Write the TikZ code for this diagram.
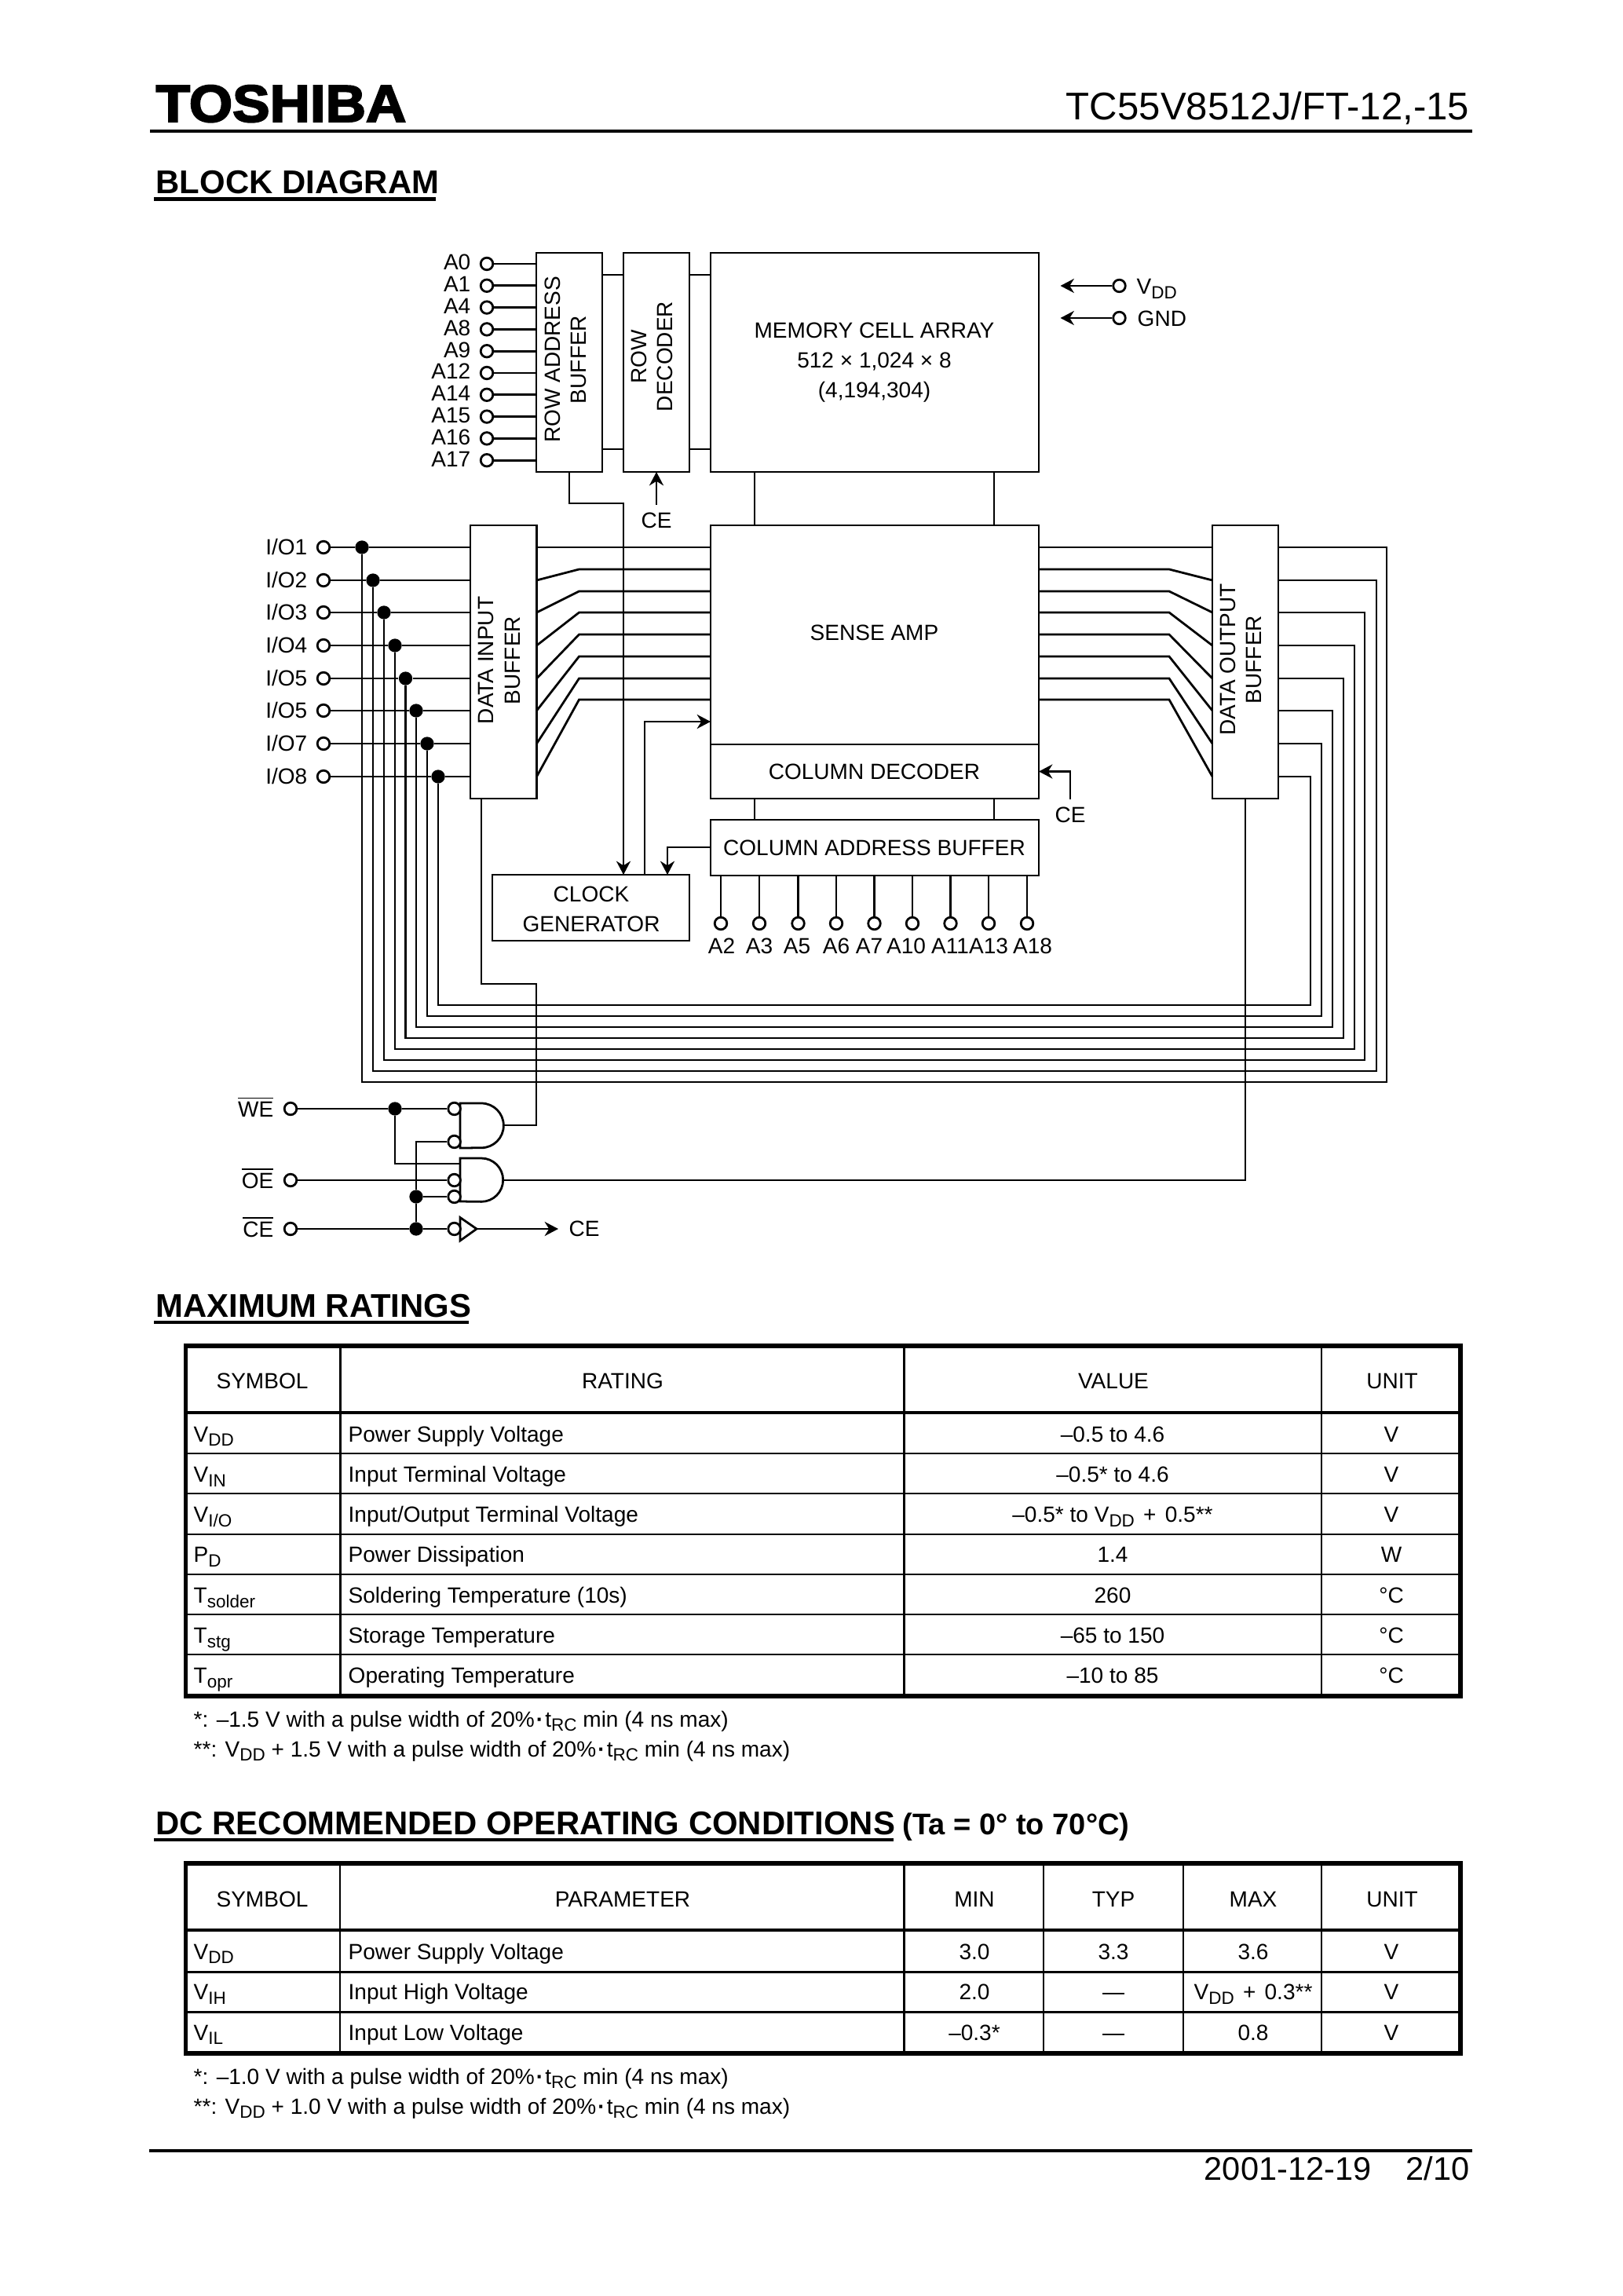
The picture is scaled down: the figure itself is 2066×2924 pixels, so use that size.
\documentclass[tikz,border=0pt]{standalone}
\usepackage{fontspec}
\usepackage{amsmath}
\setmainfont{Liberation Sans}
\newfontfamily\logofont[FakeBold=3.2,FakeStretch=1.07]{Liberation Sans Bold}
\usetikzlibrary{arrows.meta,fit,calc}

\newcommand{\lowsub}[1]{\raisebox{-1.7pt}{\fontsize{6.5}{6.5}\selectfont #1}}
\newcommand{\barname}[1]{$\overline{\mbox{#1}}$}
\newcommand{\pulsedot}{{\bfseries\hspace{0.6pt}·\hspace{0.6pt}}}
\newcommand{\plusgap}{\hspace{1pt}+\hspace{1pt}}

\begin{document}
\begin{tikzpicture}[
    x=0.289pt, y=-0.289pt,
    font=\fontsize{8.1}{11}\selectfont,
    wire/.style={line width=0.8pt},
    arrow/.style={line width=0.8pt, -{Stealth[length=5pt,width=5.2pt,inset=1.6pt]}},
    blockbox/.style={draw, line width=0.85pt, inner sep=0pt, outer sep=0pt},
    pinhole/.style={circle, draw, fill=white, line width=0.8pt, inner sep=0pt, minimum size=4.5pt},
    joint/.style={circle, fill=black, inner sep=0pt, minimum size=5pt},
    pinlabel/.style={inner sep=0pt, text height=5.7pt, text depth=0pt},
    blocktext/.style={inner sep=0pt, align=center},
    sidetext/.style={inner sep=0pt, align=center, rotate=90, font=\fontsize{8.1}{9.6}\selectfont},
    heading/.style={inner sep=0pt, anchor=base west, font=\fontsize{12.1}{14}\selectfont\bfseries},
    headrule/.style={line width=1.4pt},
    pagerule/.style={line width=1.15pt},
    tableframe/.style={line width=1.7pt},
    tablehead/.style={line width=1.3pt},
    tableline/.style={line width=0.85pt},
    cellleft/.style={inner sep=0pt, anchor=base west},
    cellmid/.style={inner sep=0pt, anchor=base}
]

\path[use as bounding box, fill=white] (0,0) rectangle (2066,2924);

% Page header
\node[inner sep=0pt, anchor=base west, font=\fontsize{19.2}{20}\logofont] (logo) at (198,155) {TOSHIBA};
\node[inner sep=0pt, anchor=base east, font=\fontsize{14.2}{16}\selectfont] (partno) at (1872,153) {TC55V8512J/FT-12,-15};
\draw[pagerule] (191,167) -- (1875,167);
\node[heading] (headblock) at (198,247) {BLOCK DIAGRAM};
\draw[headrule] (196,253.5) -- (555,253.5);

% Blocks
\node[blockbox, fit={(683,322) (767,601)}] (rowbuf) {};
\node[blockbox, fit={(794,322) (878,601)}] (rowdec) {};
\node[blockbox, fit={(905,322) (1323,601)}] (memarray) {};
\node[blockbox, fit={(599,669) (683.5,1017)}] (inbuf) {};
\node[blockbox, fit={(905,669) (1323,948)}] (senseamp) {};
\node[blockbox, fit={(905,948) (1323,1017)}] (coldec) {};
\node[blockbox, fit={(1544,669) (1628,1017)}] (outbuf) {};
\node[blockbox, fit={(905,1044) (1323,1115)}] (colbuf) {};
\node[blockbox, fit={(627,1114) (878,1198)}] (clockgen) {};

% Block texts
\node[sidetext] (rowbuftext) at (720,458) {ROW ADDRESS\\BUFFER};
\node[sidetext] (rowdectext) at (830,454) {ROW\\DECODER};
\node[sidetext] (inbuftext) at (636,841) {DATA INPUT\\BUFFER};
\node[sidetext] (outbuftext) at (1580,840) {DATA OUTPUT\\BUFFER};
\node[blocktext] (memtext) at (1113.5,462) {MEMORY CELL ARRAY\\512 × 1,024 × 8\\(4,194,304)};
\node[pinlabel] (sensetext) at (1113.5,806) {SENSE AMP};
\node[pinlabel] (coldectext) at (1113.5,983) {COLUMN DECODER};
\node[pinlabel] (colbuftext) at (1113.5,1080) {COLUMN ADDRESS BUFFER};
\node[blocktext] (clocktext) at (753,1158) {CLOCK\\GENERATOR};

% Row address pins
\foreach \lab [count=\i] in {A0,A1,A4,A8,A9,A12,A14,A15,A16,A17} {
    \node[pinhole] (rowpin\i) at (620,{336+27.8*(\i-1)}) {};
    \node[pinlabel, anchor=east] (rowlab\i) at (600,{334+27.8*(\i-1)}) {\lab};
    \draw[wire] (rowpin\i) -- (rowpin\i -| rowbuf.west);
}

% Links between the top blocks
\coordinate (rowlink1) at (0,350);
\coordinate (rowlink2) at (0,572);
\foreach \i in {1,2} {
    \draw[wire] (rowlink\i -| rowbuf.east) -- (rowlink\i -| rowdec.west);
    \draw[wire] (rowlink\i -| rowdec.east) -- (rowlink\i -| memarray.west);
}
\coordinate (collink1) at (961,0);
\coordinate (collink2) at (1266,0);
\foreach \i in {1,2} {
    \draw[wire] (collink\i |- memarray.south) -- (collink\i |- senseamp.north);
    \draw[wire] (collink\i |- coldec.south) -- (collink\i |- colbuf.north);
}

% Supply pins
\node[pinhole] (vddpin) at (1425.5,364) {};
\node[pinhole] (gndpin) at (1425.5,405) {};
\coordinate (vddtip) at (1350.5,364);
\coordinate (gndtip) at (1350.5,405);
\draw[arrow] (vddpin) -- (vddtip);
\draw[arrow] (gndpin) -- (gndtip);
\node[inner sep=0pt, anchor=base west] (vddlab) at (1447,375) {V\lowsub{DD}};
\node[inner sep=0pt, anchor=base west] (gndlab) at (1448,416) {GND};

% CE into the decoders
\node[pinlabel] (cerow) at (836,663) {CE};
\coordinate (cerowtail) at (836,643);
\draw[arrow] (cerowtail) -- (rowdec.south);
\node[pinlabel] (cecol) at (1363,1038) {CE};
\coordinate (cecoltail) at (1363,1018);
\draw[arrow] (cecoltail) |- (coldec.east);

% I/O pins, data buses and the lines through the sense amp
\foreach \n/\dx/\py/\sy/\by/\rx [count=\i] in {
    1/461/697/697/1378/1766, 2/475/739/725/1364/1753,
    3/489/780/753/1350/1738, 4/503/822/780/1336/1725,
    5/516.5/864/808/1322/1711, 5/530/905/836/1308/1697,
    7/544/947/864/1294/1683, 8/558/989/891/1280/1669} {
    \node[pinhole] (iopin\i) at (412,\py) {};
    \node[pinlabel, anchor=east] (iolab\i) at (392,\py) {I/O\n};
    \node[joint] (iodot\i) at (\dx,\py) {};
    \coordinate (busleft\i) at (\dx,\by);
    \coordinate (busright\i) at (\rx,\by);
    \coordinate (kneein\i) at (737.5,\sy);
    \coordinate (kneeout\i) at (1489,\sy);
    \draw[wire] (iopin\i) -- (iodot\i) -- (iodot\i -| inbuf.west);
    \draw[wire] (iodot\i) -- (busleft\i) -- (busright\i) -- (busright\i |- iodot\i) -- (iodot\i -| outbuf.east);
    \draw[wire] (iodot\i -| inbuf.east) -- (kneein\i) -- (kneein\i -| senseamp.west);
    \draw[wire] (kneeout\i -| senseamp.east) -- (kneeout\i) -- (iodot\i -| outbuf.west);
}

% Column address pins
\foreach \lab/\px/\lx [count=\i] in {
    A2/918/919, A3/967/967, A5/1016.5/1015, A6/1065/1065, A7/1113.5/1107,
    A10/1162/1154, A11/1210.5/1210, A13/1259/1259, A18/1308/1315} {
    \node[pinhole] (colpin\i) at (\px,1176) {};
    \node[pinlabel] (collab\i) at (\lx,1205) {\lab};
    \draw[wire] (colpin\i) -- (colpin\i |- colbuf.south);
}

% Clock generator
\coordinate (rowjog) at (794,641);
\coordinate (clockin) at (794,1114);
\coordinate (clockout) at (821,1114);
\coordinate (senseclk) at (905,919);
\coordinate (colclk) at (850,1114);
\coordinate (colclkout) at (905,1079);
\draw[arrow] (rowbuf.south) |- (rowjog) -- (clockin);
\draw[arrow] (clockout) |- (senseclk);
\draw[arrow] (colclkout) -| (colclk);

% Control pins
\node[pinhole] (wepin) at (370,1412) {};
\node[pinhole] (oepin) at (370,1503) {};
\node[pinhole] (cepin) at (370,1565) {};
\node[inner sep=0pt, anchor=base east] (welab) at (349,1422) {\barname{WE}};
\node[inner sep=0pt, anchor=base east] (oelab) at (349,1513) {\barname{OE}};
\node[inner sep=0pt, anchor=base east] (celab) at (349,1575) {\barname{CE}};
\node[joint] (wedot) at (503,1412) {};
\node[joint] (oedot) at (530,1524) {};
\node[joint] (cedot) at (530,1565) {};

% Gates
\draw[line width=0.8pt] (586,1405) -- (613,1405) arc[start angle=90, end angle=-90, radius=8.2pt] -- (586,1462) -- cycle;
\draw[line width=0.8pt] (586,1475) -- (613,1475) arc[start angle=90, end angle=-90, radius=8.0pt] -- (586,1530) -- cycle;
\draw[line width=0.8pt] (586,1550.5) -- (607,1565) -- (586,1580) -- cycle;
\node[pinhole] (wrbub1) at (578.6,1412) {};
\node[pinhole] (wrbub2) at (578.6,1454) {};
\node[pinhole] (rdbub1) at (578.6,1503) {};
\node[pinhole] (rdbub2) at (578.6,1524) {};
\node[pinhole] (cebub) at (578.6,1565) {};
\coordinate (wrout) at (641.5,1433);
\coordinate (rdout) at (641.5,1503);
\coordinate (rdin) at (586,1482);
\coordinate (cebufout) at (607,1565);
\coordinate (cetip) at (711,1565);
\node[pinlabel] (ceoutlab) at (744,1565) {CE};

% Control wiring
\draw[wire] (wepin) -- (wedot) -- (wrbub1);
\draw[wire] (wedot) |- (rdin);
\draw[wire] (oepin) -- (rdbub1);
\draw[wire] (cepin) -- (cedot) -- (cebub);
\draw[wire] (cedot) -- (oedot) |- (wrbub2);
\draw[wire] (oedot) -- (rdbub2);
\draw[arrow] (cebufout) -- (cetip);
\coordinate (wrjog) at (683,1253);
\coordinate (wrin) at (613,1017);
\draw[wire] (wrout) -| (wrjog) -| (wrin);
\draw[wire] (rdout) -| (outbuf.south);

% Maximum ratings
\node[heading] (headmax) at (198,1677) {MAXIMUM RATINGS};
\draw[headrule] (196,1684) -- (597,1684);
\foreach \colx in {433.5,1151.5,1683} \draw[tableline] (\colx,1714) -- (\colx,2160);
\foreach \rowy in {1851,1902,1954,2005,2056,2107} \draw[tableline] (236.5,\rowy) -- (1860,\rowy);
\draw[tablehead] (236.5,1799) -- (1860,1799);
\draw[tableframe] (236.5,1714) rectangle (1860,2160);
\node[cellmid] (maxsym) at (334,1768) {SYMBOL};
\node[cellmid] (maxrat) at (793,1768) {RATING};
\node[cellmid] (maxval) at (1418,1768) {VALUE};
\node[cellmid] (maxunit) at (1773,1768) {UNIT};
\foreach \sym/\rat/\val/\unit [count=\i] in {
    {V\lowsub{DD}}/{Power Supply Voltage}/{–0.5 to 4.6}/V,
    {V\lowsub{IN}}/{Input Terminal Voltage}/{–0.5* to 4.6}/V,
    {V\lowsub{I/O}}/{Input/Output Terminal Voltage}/{–0.5* to V\lowsub{DD} \plusgap{} 0.5**}/V,
    {P\lowsub{D}}/{Power Dissipation}/{1.4}/W,
    {T\lowsub{solder}}/{Soldering Temperature (10s)}/{260}/{°C},
    {T\lowsub{stg}}/{Storage Temperature}/{–65 to 150}/{°C},
    {T\lowsub{opr}}/{Operating Temperature}/{–10 to 85}/{°C}} {
    \node[cellleft] (maxsym\i) at (246,{1836+51.3*(\i-1)}) {\sym};
    \node[cellleft] (maxrat\i) at (443,{1836+51.3*(\i-1)}) {\rat};
    \node[cellmid] (maxval\i) at (1417,{1836+51.3*(\i-1)}) {\val};
    \node[cellmid] (maxunit\i) at (1772,{1836+51.3*(\i-1)}) {\unit};
}
\node[cellleft] (maxnote1) at (246,2199) {*: –1.5 V with a pulse width of 20\%\pulsedot t\lowsub{RC} min (4 ns max)};
\node[cellleft] (maxnote2) at (246,2237) {**: V\lowsub{DD} + 1.5 V with a pulse width of 20\%\pulsedot t\lowsub{RC} min (4 ns max)};

% DC recommended operating conditions
\node[heading] (headdc) at (198,2336) {DC RECOMMENDED OPERATING CONDITIONS};
\node[inner sep=0pt, anchor=base west, font=\fontsize{11}{13}\selectfont\bfseries] (headta) at (1149,2336) {(Ta = 0° to 70°C)};
\draw[headrule] (196,2343) -- (1138,2343);
\foreach \colx in {433,1151.5,1329,1507,1683} \draw[tableline] (\colx,2373) -- (\colx,2615);
\foreach \rowy in {2511,2562} \draw[tableline] (236.5,\rowy) -- (1860,\rowy);
\draw[tablehead] (236.5,2458) -- (1860,2458);
\draw[tableframe] (236.5,2373) rectangle (1860,2615);
\foreach \txt/\colx [count=\i] in {SYMBOL/334,PARAMETER/793,MIN/1241,TYP/1418,MAX/1596,UNIT/1773} {
    \node[cellmid] (dchead\i) at (\colx,2428) {\txt};
}
\foreach \sym/\parm/\lo/\typ/\hi/\rowy [count=\i] in {
    {V\lowsub{DD}}/{Power Supply Voltage}/{3.0}/{3.3}/{3.6}/2495,
    {V\lowsub{IH}}/{Input High Voltage}/{2.0}/{—}/{V\lowsub{DD} \plusgap{} 0.3**}/2546.5,
    {V\lowsub{IL}}/{Input Low Voltage}/{–0.3*}/{—}/{0.8}/2598} {
    \node[cellleft] (dcsym\i) at (246,\rowy) {\sym};
    \node[cellleft] (dcpar\i) at (443,\rowy) {\parm};
    \node[cellmid] (dcmin\i) at (1241,\rowy) {\lo};
    \node[cellmid] (dctyp\i) at (1418,\rowy) {\typ};
    \node[cellmid] (dcmax\i) at (1596,\rowy) {\hi};
    \node[cellmid] (dcunit\i) at (1772,\rowy) {V};
}
\node[cellleft] (dcnote1) at (246,2654) {*: –1.0 V with a pulse width of 20\%\pulsedot t\lowsub{RC} min (4 ns max)};
\node[cellleft] (dcnote2) at (246,2692) {**: V\lowsub{DD} + 1.0 V with a pulse width of 20\%\pulsedot t\lowsub{RC} min (4 ns max)};

% Page footer
\draw[pagerule] (190,2739) -- (1875,2739);
\node[inner sep=0pt, anchor=base east, font=\fontsize{12}{14}\selectfont] (pagedate) at (1872,2776) {2001-12-19\hspace{12.8pt}2/10};

\end{tikzpicture}
\end{document}
